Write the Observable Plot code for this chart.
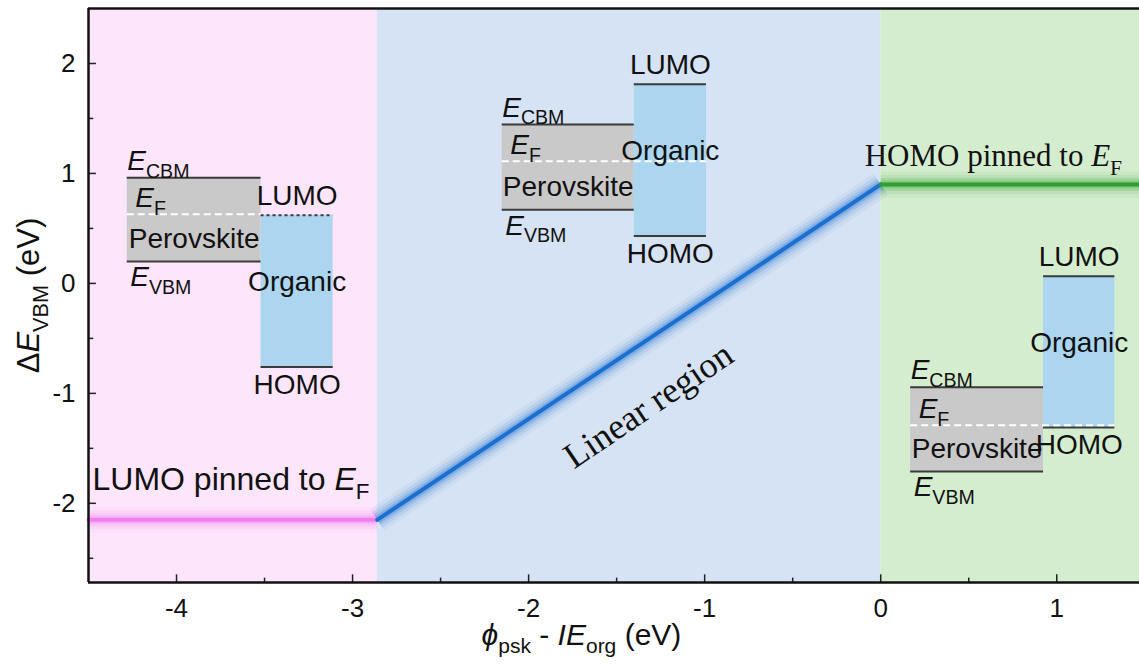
<!DOCTYPE html>
<html>
<head>
<meta charset="utf-8">
<script src="https://cdn.jsdelivr.net/npm/d3@7"></script>
<script src="https://cdn.jsdelivr.net/npm/@observablehq/plot@0.6"></script>
<style>
  html, body { margin: 0; padding: 0; background: #fff; }
  #chart { width: 1139px; height: 669px; overflow: hidden; }
</style>
</head>
<body>
<div id="chart"></div>
<script>
// ---------- data ----------
const xDomain = [-4.5, 1.47];
const yDomain = [-2.72, 2.5];
const xTicks = [-4, -3, -2, -1, 0, 1];
const xMinorTicks = [-3.5, -2.5, -1.5, -0.5, 0.5];
const yTicks = [-2, -1, 0, 1, 2];
const yMinorTicks = [-2.5, -1.5, -0.5, 0.5, 1.5];

// regions
const regionName = ["LUMO pinned", "Linear", "HOMO pinned"];
const regionStart = [-4.5, -2.86, 0];
const regionEnd = [-2.86, 0, 1.47];

// ΔE_VBM curve (pinned – linear – pinned)
const curveX = [-4.5, -2.86, 0, 1.47];
const curveY = [-2.15, -2.15, 0.9, 0.9];

// band diagrams (three insets)
const pskX1 = [-4.28, -2.15, 0.17];
const pskX2 = [-3.52, -1.40, 0.925];
const orgX2 = [-3.11, -0.99, 1.33];
const cbm = [0.96, 1.445, -0.945];
const vbm = [0.20, 0.67, -1.71];
const ef = [0.63, 1.11, -1.29];
const lumo = [0.62, 1.81, 0.064];
const homo = [-0.76, 0.43, -1.31];
const pinnedLevel = ["LUMO", "none", "HOMO"];

// texts
const xTitle = "*ϕ*_{psk} - *IE*_{org} (eV)";
const yTitle = "Δ*E*_{VBM} (eV)";
const leftNote = "LUMO pinned to *E*_{F}";
const rightNote = "HOMO pinned to *E*_{F}";
const midNote = "Linear region";

// ---------- derived tables ----------
const regionColors = ["#fde6fb", "#d6e3f4", "#d5edcf"];
const regions = regionName.map((n, i) => ({name: n, x1: regionStart[i], x2: regionEnd[i], fill: regionColors[i]}));
const segColors = ["#f27ff0", "#1a6fcf", "#2f9f32"];
const segments = d3.range(curveX.length - 1).map(i => ({
  x1: curveX[i], y1: curveY[i], x2: curveX[i + 1], y2: curveY[i + 1], stroke: segColors[i]
}));
const panels = pskX1.map((_, i) => ({
  i, pskX1: pskX1[i], pskX2: pskX2[i], orgX2: orgX2[i],
  cbm: cbm[i], vbm: vbm[i], ef: ef[i], lumo: lumo[i], homo: homo[i], pinned: pinnedLevel[i]
}));

const FS = 28;
const levelStroke = "#3b3b3b";

const glow = [
  {w: 26, o: 0.06},
  {w: 19, o: 0.10},
  {w: 13, o: 0.16},
  {w: 8, o: 0.25}
];

const plot = Plot.plot({
  width: 1139,
  height: 669,
  marginLeft: 88,
  marginRight: 0,
  marginTop: 8,
  marginBottom: 87,
  x: {domain: xDomain},
  y: {domain: yDomain},
  style: {fontFamily: "'Liberation Sans', Arial, sans-serif", background: "#ffffff", color: "#111"},
  marks: [
    Plot.rect(regions, {x1: "x1", x2: "x2", y1: yDomain[0], y2: yDomain[1], fill: "fill"}),
    // glowing curve
    ...glow.map(g => Plot.link(segments, {x1: "x1", y1: "y1", x2: "x2", y2: "y2", stroke: "stroke", strokeWidth: g.w, strokeOpacity: g.o, strokeLinecap: "butt"})),
    Plot.link(segments, {x1: "x1", y1: "y1", x2: "x2", y2: "y2", stroke: "stroke", strokeWidth: 4, strokeLinecap: "round"}),

    // band insets
    Plot.rect(panels, {x1: "pskX1", x2: "pskX2", y1: "vbm", y2: "cbm", fill: "#c9c9c9"}),
    Plot.rect(panels, {x1: "pskX2", x2: "orgX2", y1: "homo", y2: "lumo", fill: "#acd6f0"}),
    Plot.ruleY(panels, {y: "cbm", x1: "pskX1", x2: "pskX2", stroke: levelStroke, strokeWidth: 2}),
    Plot.ruleY(panels, {y: "vbm", x1: "pskX1", x2: "pskX2", stroke: levelStroke, strokeWidth: 2}),
    Plot.ruleY(panels, {y: "homo", x1: "pskX2", x2: "orgX2", stroke: levelStroke, strokeWidth: 2}),
    Plot.ruleY(panels.filter(d => d.pinned !== "LUMO"), {y: "lumo", x1: "pskX2", x2: "orgX2", stroke: levelStroke, strokeWidth: 2}),
    Plot.ruleY(panels.filter(d => d.pinned === "LUMO"), {y: "lumo", x1: "pskX2", x2: "orgX2", stroke: levelStroke, strokeWidth: 2, strokeDasharray: "3,3"}),
    Plot.ruleY(panels, {y: "ef", x1: "pskX1", x2: d => d.pinned === "LUMO" ? d.pskX2 : d.orgX2, stroke: "#ffffff", strokeWidth: 2, strokeDasharray: "7,4"}),

    // inset labels
    Plot.text(panels, {x: "pskX1", y: "cbm", text: () => "*E*_{CBM}", textAnchor: "start", lineAnchor: "bottom", dy: -8, fontSize: FS}),
    Plot.text(panels, {x: "pskX1", y: "ef", text: () => "*E*_{F}", textAnchor: "start", lineAnchor: "bottom", dx: 8, dy: -7, fontSize: FS}),
    Plot.text(panels, {x: d => (d.pskX1 + d.pskX2) / 2, y: d => (d.ef + d.vbm) / 2, text: () => "Perovskite", fontSize: FS, dy: 1}),
    Plot.text(panels, {x: "pskX1", y: "vbm", text: () => "*E*_{VBM}", textAnchor: "start", lineAnchor: "top", dx: 3, dy: 5, fontSize: FS}),
    Plot.text(panels, {x: d => (d.pskX2 + d.orgX2) / 2, y: "lumo", text: () => "LUMO", lineAnchor: "bottom", dy: -10, fontSize: FS}),
    Plot.text(panels, {x: d => (d.pskX2 + d.orgX2) / 2, y: "homo", text: () => "HOMO", lineAnchor: "top", dy: 7, fontSize: FS}),
    Plot.text(panels, {x: d => (d.pskX2 + d.orgX2) / 2, y: d => (d.lumo + d.homo) / 2, text: () => "Organic", dy: -9, fontSize: FS}),

    // annotations
    Plot.text([leftNote], {x: () => curveX[0], y: () => curveY[0], text: d => d, textAnchor: "start", lineAnchor: "bottom", dx: 4, dy: -30, fontSize: 32}),
    Plot.text([rightNote], {x: () => curveX[2], y: () => curveY[2], text: d => d, textAnchor: "start", lineAnchor: "bottom", dx: -16, dy: -18, fontSize: 31, fontFamily: "'Liberation Serif', 'Times New Roman', serif"}),
    Plot.text([midNote], {x: () => -1.32, y: () => -1.11, text: d => d, rotate: -34, fontSize: 36, fontFamily: "'Liberation Serif', 'Times New Roman', serif"}),

    // axes
    Plot.axisX(xTicks, {tickSize: 0, tickPadding: 16, tickFormat: d => String(d), fontSize: 26, label: null}),
    Plot.axisY(yTicks, {tickSize: 0, tickPadding: 13, tickFormat: d => String(d), fontSize: 26, label: null}),
    Plot.ruleX(xTicks, {x: d => d, y1: yDomain[0], y2: yDomain[0] + 0.07, stroke: "#222", strokeWidth: 1.5}),
    Plot.ruleX(xMinorTicks, {x: d => d, y1: yDomain[0], y2: yDomain[0] + 0.04, stroke: "#222", strokeWidth: 1.5}),
    Plot.ruleY(yTicks, {y: d => d, x1: xDomain[0], x2: xDomain[0] + 0.045, stroke: "#222", strokeWidth: 1.5}),
    Plot.ruleY(yMinorTicks, {y: d => d, x1: xDomain[0], x2: xDomain[0] + 0.03, stroke: "#222", strokeWidth: 1.5}),
    Plot.ruleX([xDomain[0]], {stroke: "#111", strokeWidth: 2.5}),
    Plot.ruleY([yDomain[0], yDomain[1]], {stroke: "#111", strokeWidth: 2.5}),

    // axis titles
    Plot.text([xTitle], {x: () => -1.70, frameAnchor: "bottom", text: d => d, textAnchor: "middle", dy: 62, fontSize: 30}),
    Plot.text([yTitle], {frameAnchor: "left", text: d => d, textAnchor: "middle", rotate: -90, dx: -59, fontSize: 31})
  ]
});

document.getElementById("chart").appendChild(plot);

// ---------- rich text: *italic* and _{subscript} ----------
function richify(root) {
  root.querySelectorAll("text").forEach(t => {
    if (t.querySelector("tspan")) return;
    const s = t.textContent;
    if (!/[*]|_\{/.test(s)) return;
    const fs = parseFloat(getComputedStyle(t).fontSize) || 16;
    const shift = fs * 0.28;
    const re = /\*([^*]+)\*|_\{([^}]+)\}|([^*_]+)/g;
    let m, lowered = false;
    while (t.firstChild) t.removeChild(t.firstChild);
    const NS = "http://www.w3.org/2000/svg";
    while ((m = re.exec(s)) !== null) {
      const ts = document.createElementNS(NS, "tspan");
      if (m[1] !== undefined) {
        ts.textContent = m[1];
        ts.setAttribute("font-style", "italic");
        if (lowered) { ts.setAttribute("dy", -shift); lowered = false; }
      } else if (m[2] !== undefined) {
        ts.textContent = m[2];
        ts.setAttribute("font-size", fs * 0.7);
        ts.setAttribute("font-style", "normal");
        if (!lowered) { ts.setAttribute("dy", shift); lowered = true; }
      } else {
        ts.textContent = m[3];
        if (lowered) { ts.setAttribute("dy", -shift); lowered = false; }
      }
      t.appendChild(ts);
    }
  });
}
richify(plot);
</script>
</body>
</html>
